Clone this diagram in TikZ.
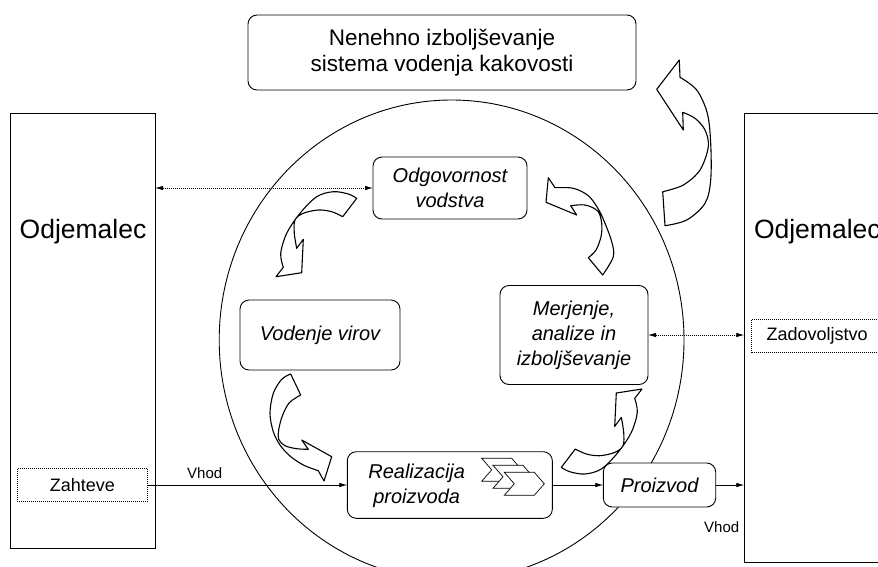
\documentclass[tikz,border=0pt]{standalone}
\usepackage{fontspec}
\setmainfont{Liberation Sans}
\usetikzlibrary{arrows.meta}
\begin{document}
\begin{tikzpicture}[x=1pt,y=-1pt,
  every node/.style={inner sep=0pt, outer sep=0pt},
  procbox/.style={draw, line width=0.9pt, rounded corners=9pt, fill=white,
    font=\fontsize{20}{25}\selectfont\itshape, align=center},
  boxtext/.style={font=\fontsize{20}{25}\selectfont\itshape, align=center},
  sidebox/.style={draw, line width=0.9pt, fill=white},
  custtext/.style={font=\fontsize{26.5}{30}\selectfont},
  notebox/.style={draw, line width=0.8pt, dash pattern=on 1pt off 1pt, fill=white,
    font=\fontsize{18}{22}\selectfont},
  smalltext/.style={font=\fontsize{15}{18}\selectfont},
  flow/.style={line width=0.8pt, -{Latex[length=8pt,width=4.5pt]}},
  link/.style={line width=0.8pt, dash pattern=on 1pt off 1pt,
    {Latex[length=8pt,width=4.5pt]}-{Latex[length=8pt,width=4.5pt]}},
  curvedarrow/.style={draw, line width=1.1pt, fill=white, line join=round},
  chev/.style={draw, line width=0.7pt, fill=white, line join=miter}
]
\clip (0,0) rectangle (878,566);
\fill[white] (0,0) rectangle (878,566);

% process circle
\draw[line width=0.9pt] (451.6,340) ellipse [x radius=232.4pt, y radius=240pt];

% customers
\node[sidebox, minimum width=145pt, minimum height=435pt] (custL) at (82.5,330.5) {};
\node[custtext] (custLtxt) at (83,232) {Odjemalec};
\node[sidebox, minimum width=160pt, minimum height=449pt] (custR) at (824.3,337.5) {};
\node[custtext, anchor=west] (custRtxt) at (754,232) {Odjemalec};

% goal
\node[procbox, font=\fontsize{22.5}{26}\selectfont, minimum width=388pt, minimum height=75pt]
  (goal) at (442,52.5) {Nenehno izboljševanje\\sistema vodenja kakovosti};

% processes
\node[procbox, minimum width=154pt, minimum height=62pt] (odg) at (450,188) {Odgovornost\\vodstva};
\node[procbox, minimum width=160pt, minimum height=70pt] (vod) at (320,335) {Vodenje virov};
\node[procbox, minimum width=148pt, minimum height=99pt] (mer) at (574,335) {Merjenje,\\analize in\\izboljševanje};
\node[procbox, minimum width=205pt, minimum height=66.6pt] (real) at (449.8,485) {};
\node[boxtext] (realtxt) at (416.7,485.8) {Realizacija\\proizvoda};
\node[procbox, minimum width=112.4pt, minimum height=44pt] (proiz) at (659.5,485) {Proizvod};

% chevrons inside the realisation box
\foreach \i in {0,1,2}
  \draw[chev, shift={({481.7+11.3*\i},{458.3+7*\i})}]
    (0,0) -- (30,0) -- (40,11.5) -- (30,23) -- (0,23) -- (10,11.5) -- cycle;

% inputs / outputs
\node[notebox, minimum width=130pt, minimum height=33.4pt] (zah) at (82.3,485) {Zahteve};
\node[notebox, anchor=west, text width=140pt, align=left, inner xsep=15pt, minimum height=33.3pt]
  (zad) at (751.7,336) {Zadovoljstvo};

% connectors
\draw[link] (custL.east |- odg.west) -- (odg.west);
\draw[link] (mer.east) -- (mer.east -| custR.west);
\draw[flow] (zah.east) -- (real.west);
\draw[flow] (real.east) -- (proiz.west);
\draw[flow] (proiz.east) -- (proiz.east -| custR.west);
\node[smalltext] (vhodA) at (204.7,473.3) {Vhod};
\node[smalltext] (vhodB) at (721.7,526.7) {Vhod};

% cycle arrows
\draw[curvedarrow] plot[smooth,tension=0.55] coordinates {(356.7,198.3) (348.3,194) (333.3,191.7) (316.7,196.7) (300,213.3) (286.7,233.3) (280.7,253.3) (283.3,267.3)}
  -- (276,276.7) -- (301.7,272.7) -- (303.3,239.3)
  -- plot[smooth,tension=0.55] coordinates {(296.7,248.3) (294.3,233.3) (295,220) (303.3,213.3) (318.3,210) (331.7,211.7) (342.7,216.7)} -- cycle;

\draw[curvedarrow] plot[smooth,tension=0.55] coordinates {(602.7,275) (613.3,256.7) (611.7,241.7) (605,223.3) (598.3,209) (588.3,195.7) (573.3,188.3) (555,187.7)}
  -- (548.3,177.7) -- (546,202.3) -- (576.7,215)
  -- plot[smooth,tension=0.55] coordinates {(570.7,205.7) (585,205) (597.7,211) (601.7,223.3) (601,236.7) (596,250) (588.3,257.7)} -- cycle;

\draw[curvedarrow] plot[smooth,tension=0.55] coordinates {(290.7,374) (281.7,379.3) (273.3,393.3) (270,413.3) (273.3,431.7) (280,445) (290,456) (303.3,465) (318.3,470.7)}
  -- (324,481) -- (331.7,456.7) -- (301.7,440)
  -- plot[smooth,tension=0.55] coordinates {(308.3,449.3) (296.7,448.7) (285,445.7) (278.7,439.3) (278.7,430) (282.3,416) (289.3,402.7) (300.7,395)} -- cycle;

\draw[curvedarrow] plot[smooth,tension=0.55] coordinates {(561.3,467.4) (569.7,471.7) (584.7,474) (601.3,469) (618,452.4) (631.3,432.4) (637.3,412.4) (634.7,398.4)}
  -- (642,389) -- (616.3,393) -- (614.7,426.4)
  -- plot[smooth,tension=0.55] coordinates {(621.3,417.4) (623.7,432.4) (623,445.7) (614.7,452.4) (599.7,455.7) (586.3,454) (575.3,449)} -- cycle;

% improvement loop arrow
\draw[curvedarrow] plot[smooth,tension=0.55] coordinates {(680,77.3) (696.7,90) (707.3,113.3) (710.7,143.3) (710.7,180) (705,203.3) (686.7,220) (665,225.7)}
  -- plot[smooth,tension=0.55] coordinates {(662.7,191.7) (683.3,185) (700,170) (708.3,146.7) (705,130) (695,118.3) (682.7,112.3)}
  -- (683.3,130) -- (656.7,89.3) -- (679.3,60) -- cycle;
\end{tikzpicture}
\end{document}
